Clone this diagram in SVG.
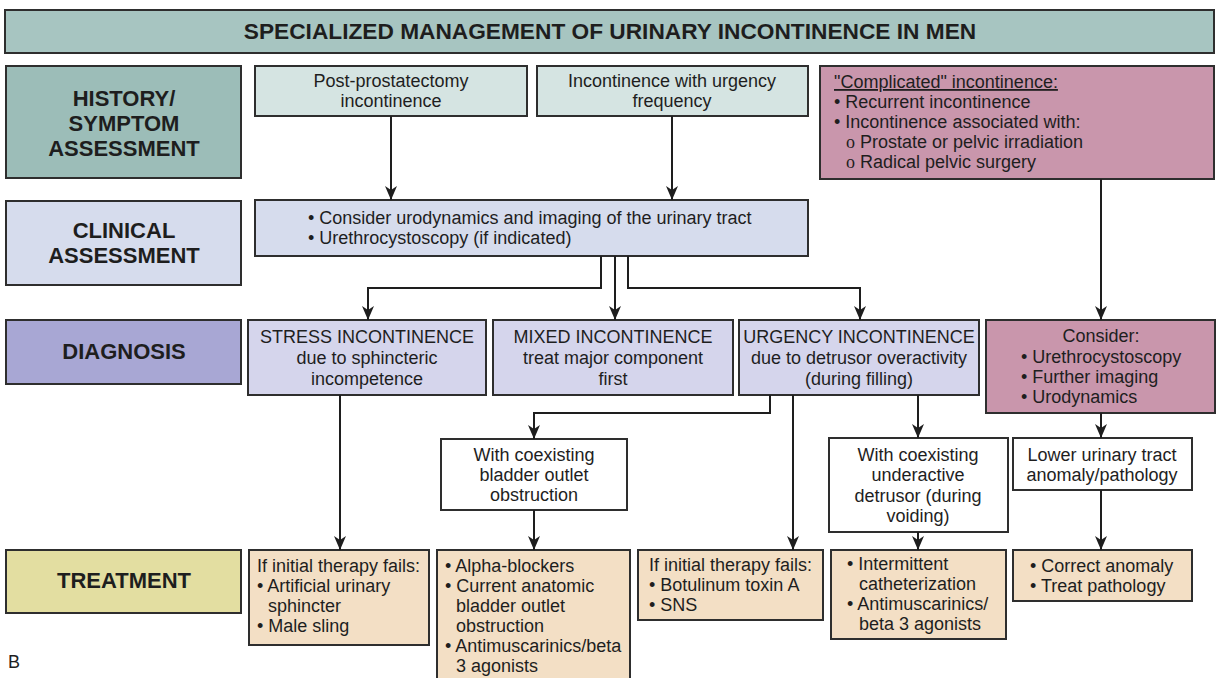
<svg xmlns="http://www.w3.org/2000/svg" width="1219" height="678" viewBox="0 0 1219 678">
<defs>
<style>
rect{stroke:#2e2e2e;stroke-width:2}
rect.bg{stroke:none;fill:#ffffff}
text{font-family:"Liberation Sans",Arial,sans-serif;font-size:18px;fill:#1e1e1e}
.lab{font-weight:bold;font-size:22px;text-anchor:middle}
.ttl{font-size:22.7px}
.c{text-anchor:middle}
.ser{font-family:"Liberation Serif","Times New Roman",serif}
.title{fill:#a7c5c1}
.hist{fill:#9cbdb8}
.teal{fill:#d5e4e2}
.clin{fill:#d6dced}
.diag{fill:#a8a7d4}
.dbox{fill:#d5d5ec}
.mauve{fill:#c996ac}
.treat{fill:#e3dea1}
.tbox{fill:#f3dfc5}
.white{fill:#ffffff}
.conn path{fill:none;stroke:#1e1e1e;stroke-width:2;marker-end:url(#ah)}
</style>
<marker id="ah" markerUnits="userSpaceOnUse" markerWidth="16" markerHeight="14" refX="14" refY="6" orient="auto">
<path d="M0,0 L14,6 L0,12 L4,6 z" fill="#1e1e1e"/>
</marker>
</defs>
<rect class="bg" width="1219" height="678"/>

<g id="title">
<rect class="title" x="5" y="10" width="1209" height="43"/>
<text class="lab ttl" x="610" y="39">SPECIALIZED MANAGEMENT OF URINARY INCONTINENCE IN MEN</text>
</g>

<g id="label-history">
<rect class="hist" x="6" y="66" width="235" height="112"/>
<text class="lab" x="124" y="106">HISTORY/</text>
<text class="lab" x="124" y="131">SYMPTOM</text>
<text class="lab" x="124" y="156">ASSESSMENT</text>
</g>
<g id="label-clinical">
<rect class="clin" x="6" y="201" width="235" height="84"/>
<text class="lab" x="124" y="238">CLINICAL</text>
<text class="lab" x="124" y="263">ASSESSMENT</text>
</g>
<g id="label-diagnosis">
<rect class="diag" x="6" y="320" width="235" height="64"/>
<text class="lab" x="124" y="359">DIAGNOSIS</text>
</g>
<g id="label-treatment">
<rect class="treat" x="6" y="550" width="235" height="63"/>
<text class="lab" x="124" y="588">TREATMENT</text>
</g>

<g id="post-prostatectomy">
<rect class="teal" x="255" y="66" width="272" height="50"/>
<text class="c" x="391" y="87">Post-prostatectomy</text>
<text class="c" x="391" y="107">incontinence</text>
</g>
<g id="urgency-frequency">
<rect class="teal" x="537" y="66" width="271" height="50"/>
<text class="c" x="672" y="87">Incontinence with urgency</text>
<text class="c" x="672" y="107">frequency</text>
</g>
<g id="complicated">
<rect class="mauve" x="820" y="66" width="394" height="113"/>
<text x="834" y="88" text-decoration="underline">"Complicated" incontinence:</text>
<text x="834" y="108">• Recurrent incontinence</text>
<text x="834" y="128">• Incontinence associated with:</text>
<text x="846" y="148"><tspan class="ser">o</tspan> Prostate or pelvic irradiation</text>
<text x="846" y="168"><tspan class="ser">o</tspan> Radical pelvic surgery</text>
</g>

<g id="clinical">
<rect class="clin" x="255" y="200" width="553" height="56"/>
<text x="308" y="224">• Consider urodynamics and imaging of the urinary tract</text>
<text x="308" y="244">• Urethrocystoscopy (if indicated)</text>
</g>

<g id="stress">
<rect class="dbox" x="248" y="320" width="238" height="75"/>
<text class="c" x="367" y="343">STRESS INCONTINENCE</text>
<text class="c" x="367" y="364">due to sphincteric</text>
<text class="c" x="367" y="385">incompetence</text>
</g>
<g id="mixed">
<rect class="dbox" x="493" y="320" width="240" height="75"/>
<text class="c" x="613" y="343">MIXED INCONTINENCE</text>
<text class="c" x="613" y="364">treat major component</text>
<text class="c" x="613" y="385">first</text>
</g>
<g id="urgency">
<rect class="dbox" x="739" y="320" width="240" height="75"/>
<text class="c" x="859" y="343">URGENCY INCONTINENCE</text>
<text class="c" x="859" y="364">due to detrusor overactivity</text>
<text class="c" x="859" y="385">(during filling)</text>
</g>
<g id="consider">
<rect class="mauve" x="986" y="320" width="229" height="93"/>
<text class="c" x="1101" y="342">Consider:</text>
<text x="1021" y="363">• Urethrocystoscopy</text>
<text x="1021" y="383">• Further imaging</text>
<text x="1021" y="403">• Urodynamics</text>
</g>

<g id="bladder-outlet">
<rect class="white" x="441" y="439" width="186" height="71"/>
<text class="c" x="534" y="461">With coexisting</text>
<text class="c" x="534" y="481">bladder outlet</text>
<text class="c" x="534" y="501">obstruction</text>
</g>
<g id="underactive">
<rect class="white" x="829" y="438" width="179" height="94"/>
<text class="c" x="918" y="461">With coexisting</text>
<text class="c" x="918" y="481">underactive</text>
<text class="c" x="918" y="502">detrusor (during</text>
<text class="c" x="918" y="522">voiding)</text>
</g>
<g id="lower-tract">
<rect class="white" x="1013" y="438" width="179" height="52"/>
<text class="c" x="1102" y="461">Lower urinary tract</text>
<text class="c" x="1102" y="481">anomaly/pathology</text>
</g>

<g id="treat-stress">
<rect class="tbox" x="249" y="550" width="180" height="95"/>
<text x="257" y="572">If initial therapy fails:</text>
<text x="257" y="592">• Artificial urinary</text>
<text x="268" y="612">sphincter</text>
<text x="257" y="632">• Male sling</text>
</g>
<g id="treat-outlet">
<rect class="tbox" x="437" y="550" width="193" height="132"/>
<text x="445" y="572">• Alpha-blockers</text>
<text x="445" y="592">• Current anatomic</text>
<text x="456" y="612">bladder outlet</text>
<text x="456" y="632">obstruction</text>
<text x="445" y="652">• Antimuscarinics/beta</text>
<text x="456" y="672">3 agonists</text>
</g>
<g id="treat-urgency">
<rect class="tbox" x="638" y="550" width="185" height="70"/>
<text x="649" y="571">If initial therapy fails:</text>
<text x="649" y="591">• Botulinum toxin A</text>
<text x="649" y="611">• SNS</text>
</g>
<g id="treat-underactive">
<rect class="tbox" x="831" y="550" width="175" height="89"/>
<text x="847" y="570">• Intermittent</text>
<text x="859" y="590">catheterization</text>
<text x="847" y="610">• Antimuscarinics/</text>
<text x="859" y="630">beta 3 agonists</text>
</g>
<g id="treat-anomaly">
<rect class="tbox" x="1013" y="550" width="179" height="51"/>
<text x="1030" y="572">• Correct anomaly</text>
<text x="1030" y="592">• Treat pathology</text>
</g>

<g id="connectors" class="conn">
<path d="M391,116 V200"/>
<path d="M672,116 V200"/>
<path d="M601,256 V288 H368 V320"/>
<path d="M615,256 V320"/>
<path d="M628,256 V288 H860 V320"/>
<path d="M1101,179 V320"/>
<path d="M340,395 V550"/>
<path d="M770,395 V413 H534 V439"/>
<path d="M793,395 V550"/>
<path d="M918,395 V438"/>
<path d="M1101,413 V438"/>
<path d="M534,510 V550"/>
<path d="M918,532 V550"/>
<path d="M1101,490 V550"/>
</g>

<text x="8" y="668">B</text>
</svg>
